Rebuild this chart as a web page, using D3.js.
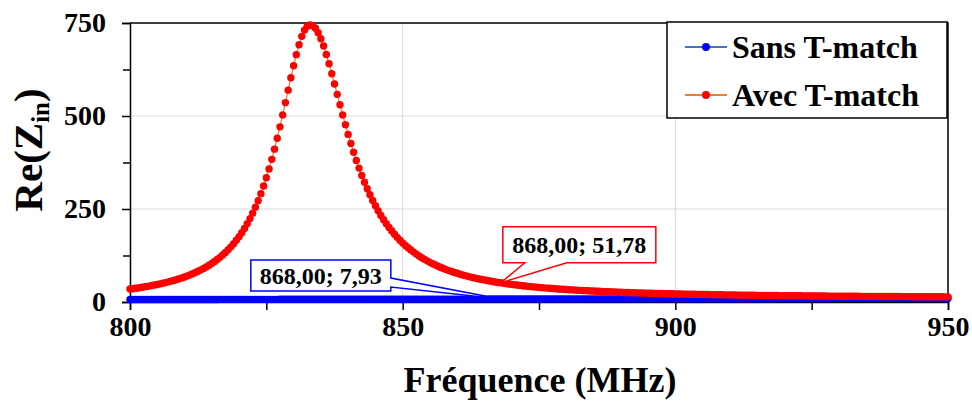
<!DOCTYPE html>
<html>
<head>
<meta charset="utf-8">
<script src="https://cdn.jsdelivr.net/npm/d3@7"></script>
<style>
  body { margin: 0; background: #fff; }
  text { font-family: "Liberation Serif", "Times New Roman", serif; font-weight: bold; fill: #000; }
</style>
</head>
<body>
<script>
(function() {

    const width = 972;
    const height = 401;

    // frequency axis: 800 -> 950 MHz, one sample every 0.5 MHz
    const freqStart = 800;
    const freqStep = 0.5;

    // Re(Zin) without T-match (blue)
    const sansTmatch = [
        6.7,6.7,6.7,6.7,6.7,6.7,6.7,6.7,6.7,6.7,6.7,
        6.8,6.8,6.8,6.8,6.8,6.8,6.8,6.8,6.8,6.8,6.8,
        6.9,6.9,6.9,6.9,6.9,6.9,6.9,6.9,6.9,6.9,6.9,
        7.0,7.0,7.0,7.0,7.0,7.0,7.0,7.0,7.0,7.0,7.0,
        7.1,7.1,7.1,7.1,7.1,7.1,7.1,7.1,7.1,7.1,7.1,
        7.2,7.2,7.2,7.2,7.2,7.2,7.2,7.2,7.2,7.2,7.2,
        7.3,7.3,7.3,7.3,7.3,7.3,7.3,7.3,7.3,7.3,7.3,
        7.4,7.4,7.4,7.4,7.4,7.4,7.4,7.4,7.4,7.4,7.4,
        7.5,7.5,7.5,7.5,7.5,7.5,7.5,7.5,7.5,7.5,7.5,
        7.6,7.6,7.6,7.6,7.6,7.6,7.6,7.6,7.6,7.6,7.6,
        7.7,7.7,7.7,7.7,7.7,7.7,7.7,7.7,7.7,7.7,7.7,
        7.8,7.8,7.8,7.8,7.8,7.8,7.8,7.8,7.8,7.8,7.8,
        7.9,7.9,7.9,7.9,7.93,
        8.0,8.0,8.0,8.0,8.0,8.0,8.0,8.0,8.0,8.0,
        8.1,8.1,8.1,8.1,8.1,8.1,8.1,8.1,8.1,8.1,
        8.2,8.2,8.2,8.2,8.2,8.2,8.2,8.2,8.2,8.2,
        8.3,8.3,8.3,8.3,8.3,8.3,8.3,8.3,8.3,8.3,
        8.4,8.4,8.4,8.4,8.4,8.4,8.4,8.4,8.4,8.4,
        8.5,8.5,8.5,8.5,8.5,8.5,8.5,8.5,8.5,8.5,
        8.6,8.6,8.6,8.6,8.6,8.6,8.6,8.6,8.6,8.6,
        8.7,8.7,8.7,8.7,8.7,8.7,8.7,8.7,8.7,8.7,
        8.8,8.8,8.8,8.8,8.8,8.8,8.8,8.8,8.8,8.8,
        8.9,8.9,8.9,8.9,8.9,8.9,8.9,8.9,8.9,8.9,
        9.0,9.0,9.0,9.0,9.0,9.0,9.0,9.0,9.0,9.0,
        9.1,9.1,9.1,9.1,9.1,9.1,9.1,9.1,9.1,9.1,
        9.2,9.2,9.2,9.2,9.2,9.2,9.2,9.2,9.2,9.2,
        9.3,9.3,9.3,9.3,9.3,9.3,9.3,9.3,9.3,9.3,
        9.4,9.4,9.4,9.4,9.4,9.4,9.4,9.4,9.4,9.4,
        9.5,9.5,9.5,9.5,9.5,9.5,9.5,9.5,9.5,9.5,9.5,9.5,9.5,9.5
    ];

    // Re(Zin) with T-match (red)
    const avecTmatch = [
        34.8,35.8,36.9,37.9,39.1,40.3,41.5,42.8,44.2,45.6,
        47.1,48.7,50.4,52.1,54.0,55.9,58.0,60.1,62.4,64.8,
        67.4,70.1,73.0,76.0,79.3,82.7,86.4,90.3,94.4,98.9,
        103.6,108.7,114.2,120.0,126.3,133.1,140.3,148.2,156.6,165.8,
        175.7,186.4,197.9,210.5,224.2,238.9,255.0,272.4,291.3,311.8,
        334.0,357.8,383.5,410.9,440.1,470.9,502.9,536.0,569.5,602.8,
        635.0,664.9,691.7,714.1,730.9,741.4,745.0,
        742.9,735.7,723.9,707.8,688.0,665.3,640.3,613.7,586.2,558.2,
        530.4,503.0,476.3,450.6,426.1,402.7,380.7,359.9,340.3,322.1,
        304.5,288.2,272.9,258.6,245.3,232.8,221.2,210.4,200.3,190.8,
        182.0,173.8,166.0,158.8,152.0,145.7,139.7,134.1,128.8,123.8,
        119.1,114.7,110.6,106.6,102.9,99.4,96.1,92.9,89.9,87.1,
        84.4,81.8,79.4,77.1,74.9,72.8,70.8,68.9,67.0,65.3,
        63.6,62.0,60.5,59.0,57.6,56.3,55.0,53.8,52.6,51.78,
        50.3,49.3,48.3,47.3,46.4,45.5,44.6,43.7,42.9,42.1,
        41.4,40.7,40.0,39.3,38.6,38.0,37.4,36.8,36.2,35.6,
        35.1,34.6,34.1,33.6,33.1,32.6,32.2,31.7,31.3,30.9,
        30.5,30.1,29.7,29.4,29.0,28.7,28.3,28.0,27.7,27.4,
        27.1,26.8,26.5,26.2,25.9,25.6,25.4,25.1,24.9,24.6,
        24.4,24.2,23.9,23.7,23.5,23.3,23.1,22.9,22.7,22.5,
        22.3,22.1,22.0,21.8,21.6,21.4,21.3,21.1,21.0,20.8,
        20.7,20.5,20.4,20.2,20.1,20.0,19.8,19.7,19.6,19.4,
        19.3,19.2,19.1,19.0,18.8,18.7,18.6,18.5,18.4,18.3,
        18.2,18.1,18.0,17.9,17.8,17.7,17.6,17.5,17.5,17.4,
        17.3,17.2,17.1,17.0,17.0,16.9,16.8,16.7,16.7,16.6,
        16.5,16.4,16.4,16.3,16.2,16.2,16.1,16.0,16.0,15.9,
        15.8,15.8,15.7,15.7,15.6,15.6,15.5,15.4,15.4,15.3,
        15.3,15.2,15.2,15.1,15.1,15.0,15.0,14.9,14.9,14.8,
        14.8,14.8,14.7,14.7,14.6,14.6,14.5,14.5,14.5,14.4,
        14.4,14.3,14.3,14.3,14.2,14.2,14.2,14.1,14.1,14.0,
        14.0,14.0,13.9,13.9
    ];

    const seriesNames = ["Sans T-match", "Avec T-match"];
    const xTicksMajor = [800, 850, 900, 950];
    const xTicksAll = [800, 825, 850, 875, 900, 925, 950];
    const yTicksMajor = [0, 250, 500, 750];
    const yTicksMinor = [125, 375, 625];

    // data labels at 868 MHz
    const labelFreq = 868;
    const labelSans = { value: 7.93, text: "868,00; 7,93" };
    const labelAvec = { value: 51.78, text: "868,00; 51,78" };

    const freqs = sansTmatch.map((d, i) => freqStart + i * freqStep);
    const blueData = freqs.map((f, i) => [f, sansTmatch[i]]);
    const redData = freqs.map((f, i) => [f, avecTmatch[i]]);

    const x = d3.scaleLinear().domain([800, 950]).range([130, 948]);
    const y = d3.scaleLinear().domain([0, 750]).range([302, 23]);

    const svg = d3.select("body").append("svg")
        .attr("width", width)
        .attr("height", height);

    // gridlines
    svg.append("g").selectAll("line")
        .data([850, 900])
        .enter().append("line")
        .attr("x1", d => x(d)).attr("x2", d => x(d))
        .attr("y1", y(0)).attr("y2", y(750))
        .style("stroke", "#d9d9d9").style("stroke-width", 1);
    svg.append("g").selectAll("line")
        .data([250, 500])
        .enter().append("line")
        .attr("x1", x(800)).attr("x2", x(950))
        .attr("y1", d => y(d)).attr("y2", d => y(d))
        .style("stroke", "#d9d9d9").style("stroke-width", 1);

    // plot frame (top and right)
    svg.append("path")
        .attr("d", `M${x(800)},${y(750)}H${x(950)}V${y(0)}`)
        .style("fill", "none").style("stroke", "#000").style("stroke-width", 1.5);

    // y axis
    svg.append("g")
        .attr("transform", `translate(${x(800)},0)`)
        .call(d3.axisLeft(y).tickValues(yTicksMajor).tickSize(8).tickPadding(16));
    svg.append("g")
        .attr("transform", `translate(${x(800)},0)`)
        .call(d3.axisLeft(y).tickValues(yTicksMinor).tickSize(7).tickFormat(""))
        .select(".domain").remove();

    // x axis
    svg.append("g")
        .attr("transform", `translate(0,${y(0)})`)
        .call(d3.axisBottom(x).tickValues(xTicksAll).tickSize(8).tickPadding(6)
            .tickFormat(d => xTicksMajor.includes(d) ? d : ""));

    svg.selectAll(".domain").style("stroke", "#000").style("stroke-width", 1.5);
    svg.selectAll(".tick line").style("stroke", "#000").style("stroke-width", 1.5);
    svg.selectAll(".tick text")
        .style("font-family", '"Liberation Serif", "Times New Roman", serif')
        .style("font-weight", "bold")
        .style("font-size", "28px")
        .style("fill", "#000");

    // axis titles
    svg.append("text")
        .attr("x", 540).attr("y", 392)
        .attr("text-anchor", "middle")
        .style("font-size", "36px")
        .text("Fréquence (MHz)");

    const yTitle = svg.append("text")
        .attr("transform", "translate(42,150) rotate(-90)")
        .attr("text-anchor", "middle")
        .style("font-size", "41px");
    yTitle.append("tspan").text("Re(Z");
    yTitle.append("tspan").attr("dy", 7).style("font-size", "25px").text("in");
    yTitle.append("tspan").attr("dy", -7).text(")");

    // series
    const line = d3.line().x(d => x(d[0])).y(d => y(d[1]));

    function drawSeries(data, lineColor, dotColor) {
        const g = svg.append("g");
        g.append("path")
            .datum(data)
            .attr("d", line)
            .style("fill", "none")
            .style("stroke", lineColor)
            .style("stroke-width", 1.25);
        g.selectAll("circle")
            .data(data)
            .enter().append("circle")
            .attr("cx", d => x(d[0]))
            .attr("cy", d => y(d[1]))
            .attr("r", 3.7)
            .style("fill", dotColor);
    }
    drawSeries(blueData, "#4472c4", "#0000ff");
    drawSeries(redData, "#ed7d31", "#ff0000");

    // callout for the blue series (wedge on right edge)
    let px = x(labelFreq), py = y(labelSans.value);
    let l = px - 250, r = px - 110, t = py - 39, b = py - 8;
    svg.append("path")
        .attr("d", `M${l},${t}H${r}V${py - 21}L${px},${py}L${r},${py - 12}V${b}H${l}Z`)
        .style("fill", "#fff").style("stroke", "#0000ff").style("stroke-width", 1.5);
    svg.append("text")
        .attr("x", (l + r) / 2).attr("y", (t + b) / 2 + 8)
        .attr("text-anchor", "middle")
        .style("font-size", "24px")
        .text(labelSans.text);

    // callout for the red series (wedge on bottom edge)
    py = y(labelAvec.value);
    l = px + 2; r = px + 155; t = py - 56; b = py - 20;
    svg.append("path")
        .attr("d", `M${l},${t}H${r}V${b}H${px + 66}L${px},${py}L${px + 24},${b}H${l}Z`)
        .style("fill", "#fff").style("stroke", "#ff0000").style("stroke-width", 1.5);
    svg.append("text")
        .attr("x", (l + r) / 2).attr("y", (t + b) / 2 + 8)
        .attr("text-anchor", "middle")
        .style("font-size", "24px")
        .text(labelAvec.text);

    // legend
    const legend = svg.append("g");
    legend.append("rect")
        .attr("x", 667).attr("y", 22)
        .attr("width", 280).attr("height", 96)
        .style("fill", "#fff").style("stroke", "#000").style("stroke-width", 1.5);

    const legendItems = legend.selectAll("g.item")
        .data([
            { name: seriesNames[0], line: "#4472c4", dot: "#0000ff" },
            { name: seriesNames[1], line: "#ed7d31", dot: "#ff0000" }
        ])
        .enter().append("g")
        .attr("class", "item")
        .attr("transform", (d, i) => `translate(0,${47 + i * 48})`);

    legendItems.append("line")
        .attr("x1", 685).attr("x2", 727)
        .style("stroke", d => d.line).style("stroke-width", 2);
    legendItems.append("circle")
        .attr("cx", 706).attr("r", 4)
        .style("fill", d => d.dot);
    legendItems.append("text")
        .attr("x", 732).attr("y", 11)
        .style("font-size", "32px")
        .text(d => d.name);

})();
</script>
</body>
</html>
